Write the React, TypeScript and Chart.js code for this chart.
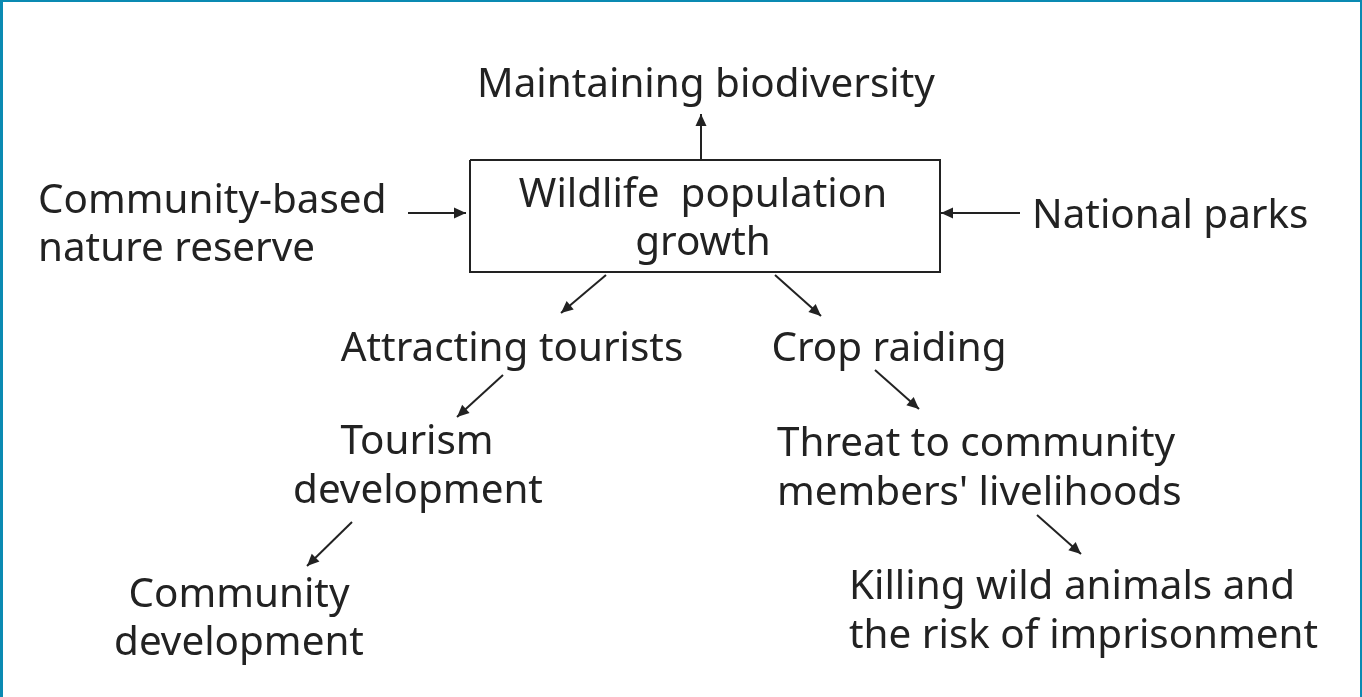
import React, { useEffect, useRef } from "react";
import { Chart, registerables } from "chart.js";

Chart.register(...registerables);

// Node labels (text lines), anchor x, center y, alignment
const labelTexts = [
  "Maintaining biodiversity",
  "Community-based",
  "nature reserve",
  "Wildlife  population",
  "growth",
  "National parks",
  "Attracting tourists",
  "Crop raiding",
  "Tourism",
  "development",
  "Threat to community",
  "members' livelihoods",
  "Community",
  "development",
  "Killing wild animals and",
  "the risk of imprisonment",
];
const labelX = [706, 38, 38, 703, 703, 1032, 512, 889, 417, 418, 777, 777, 239, 239, 849, 849];
const labelY = [85, 201, 249, 195, 243, 216, 349, 349, 442, 491, 444, 493, 595, 643, 587, 636];
const labelAlign = ["center", "left", "left", "center", "center", "left", "center", "center", "center", "center", "left", "left", "center", "center", "left", "left"];

// Arrows: from -> to
const arrowFromX = [701, 408, 1020, 606, 775, 503, 875, 352, 1037];
const arrowFromY = [160, 213, 213, 275, 275, 375, 370, 522, 515];
const arrowToX = [701, 466, 941, 561, 821, 457, 919, 307, 1081];
const arrowToY = [114, 213, 213, 313, 316, 417, 409, 566, 554];

// Central box outline
const boxX = [470, 940, 940, 470, 470];
const boxY = [160, 160, 272, 272, 160];

const FONT = "40.4px 'Noto Sans', sans-serif";
const INK = "#222222";

export default function App() {
  const ref = useRef<HTMLCanvasElement>(null);

  useEffect(() => {
    document.body.style.margin = "0";
    const canvas = ref.current;
    if (!canvas) return;

    const datasets: any[] = [];
    datasets.push({
      type: "line",
      data: boxX.map((x, i) => ({ x, y: boxY[i] })),
      borderColor: INK,
      borderWidth: 2,
      pointRadius: 0,
      fill: false,
      tension: 0,
    });
    arrowFromX.forEach((_, i) => {
      datasets.push({
        type: "line",
        data: [
          { x: arrowFromX[i], y: arrowFromY[i] },
          { x: arrowToX[i], y: arrowToY[i] },
        ],
        borderColor: INK,
        borderWidth: 2,
        pointRadius: 0,
        fill: false,
      });
    });

    const framePlugin = {
      id: "frame",
      beforeDraw(chart: any) {
        const ctx = chart.ctx;
        ctx.save();
        ctx.fillStyle = "#ffffff";
        ctx.fillRect(0, 0, chart.width, chart.height);
        ctx.fillStyle = "#0a8ab2";
        ctx.fillRect(0, 0, 3, chart.height);
        ctx.fillRect(0, 0, chart.width, 2);
        ctx.fillRect(chart.width - 2, 0, 2, chart.height);
        ctx.restore();
      },
    };

    const diagramPlugin = {
      id: "diagram",
      afterDatasetsDraw(chart: any) {
        const ctx = chart.ctx;
        const xs = chart.scales.x;
        const ys = chart.scales.y;
        ctx.save();
        ctx.fillStyle = INK;
        arrowFromX.forEach((_, i) => {
          const x1 = xs.getPixelForValue(arrowFromX[i]);
          const y1 = ys.getPixelForValue(arrowFromY[i]);
          const x2 = xs.getPixelForValue(arrowToX[i]);
          const y2 = ys.getPixelForValue(arrowToY[i]);
          const a = Math.atan2(y2 - y1, x2 - x1);
          const len = 12;
          const w = 5.5;
          ctx.beginPath();
          ctx.moveTo(x2, y2);
          ctx.lineTo(x2 - len * Math.cos(a) + w * Math.sin(a), y2 - len * Math.sin(a) - w * Math.cos(a));
          ctx.lineTo(x2 - len * Math.cos(a) - w * Math.sin(a), y2 - len * Math.sin(a) + w * Math.cos(a));
          ctx.closePath();
          ctx.fill();
        });
        ctx.font = FONT;
        ctx.fillStyle = INK;
        ctx.textBaseline = "middle";
        labelTexts.forEach((t, i) => {
          ctx.textAlign = labelAlign[i];
          ctx.fillText(t, xs.getPixelForValue(labelX[i]), ys.getPixelForValue(labelY[i]));
        });
        ctx.restore();
      },
    };

    const chart = new Chart(canvas, {
      type: "scatter",
      data: { datasets },
      options: {
        animation: false,
        responsive: false,
        maintainAspectRatio: false,
        layout: { padding: 0 },
        plugins: { legend: { display: false }, tooltip: { enabled: false } },
        scales: {
          x: { type: "linear", min: 0, max: 1362, display: false },
          y: { type: "linear", min: 0, max: 697, reverse: true, display: false },
        },
        events: [],
      },
      plugins: [framePlugin, diagramPlugin],
    });
    return () => chart.destroy();
  }, []);

  return (
    <div style={{ width: 1362, height: 697 }}>
      <canvas ref={ref} width={1362} height={697} style={{ display: "block" }} />
    </div>
  );
}
